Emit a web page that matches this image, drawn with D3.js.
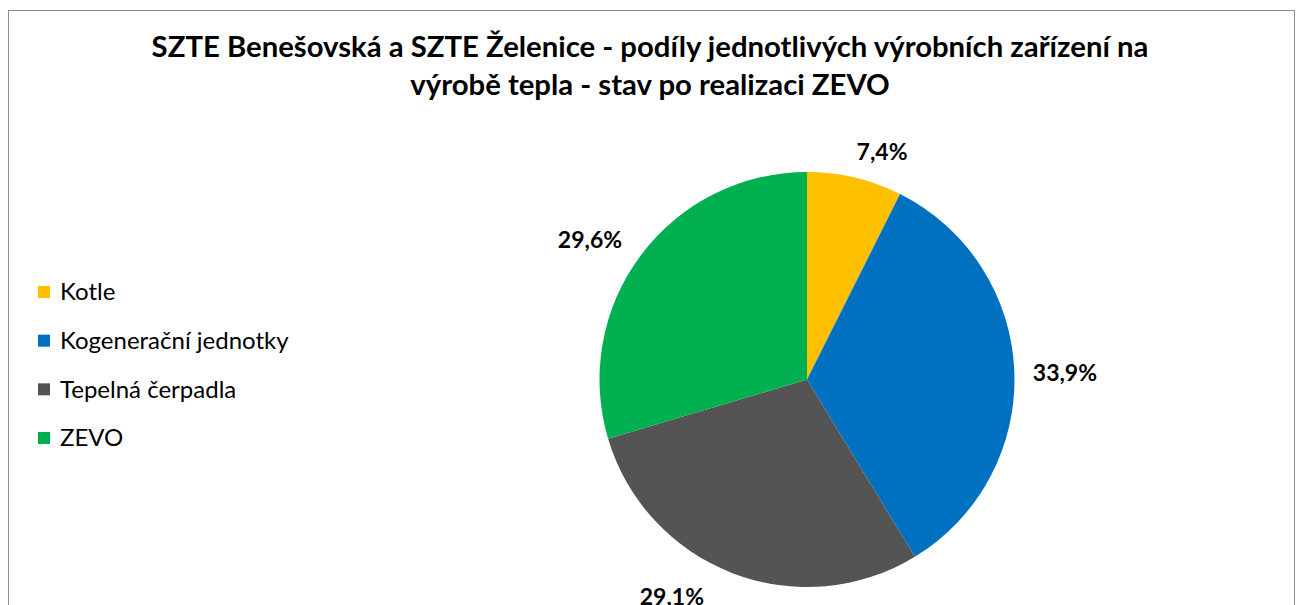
<!DOCTYPE html>
<html>
<head>
<meta charset="utf-8">
<script src="https://cdn.jsdelivr.net/npm/d3@7"></script>
<style>
  html, body { margin: 0; padding: 0; background: #ffffff; }
  svg { display: block; }
</style>
</head>
<body>
<svg id="chart" width="1296" height="605"></svg>
<script>
// Podíly výrobních zařízení na výrobě tepla (%)
const categories = ["Kotle", "Kogenerační jednotky", "Tepelná čerpadla", "ZEVO"];
const shares = [7.4, 33.9, 29.1, 29.6];
const colors = ["#FFC000", "#0070C0", "#545454", "#00B050"];
const titleLines = [
  "SZTE Benešovská a SZTE Želenice - podíly jednotlivých výrobních zařízení na",
  "výrobě tepla - stav po realizaci ZEVO"
];

const font = "Lato, 'Noto Sans', sans-serif";
const svg = d3.select("#chart");

// chart frame
svg.append("rect")
  .attr("x", 8.5).attr("y", 10.5)
  .attr("width", 1286).attr("height", 640)
  .attr("fill", "#ffffff")
  .attr("stroke", "#8c8c8c").attr("stroke-width", 1);

// title
const title = svg.append("text")
  .attr("text-anchor", "middle")
  .attr("font-family", font)
  .attr("font-weight", "bold")
  .attr("font-size", 29.3)
  .attr("fill", "#000000");
titleLines.forEach((line, i) => {
  title.append("tspan").attr("x", 650).attr("y", 57 + i * 38).text(line);
});

// pie
const cx = 807, cy = 379.5, radius = 207.5;
const pie = d3.pie().sort(null).value(d => d)
  .startAngle(0).endAngle(2 * Math.PI);
const arcs = pie(shares);
const arc = d3.arc().innerRadius(0).outerRadius(radius);

const g = svg.append("g").attr("transform", `translate(${cx},${cy})`);
g.selectAll("path.slice")
  .data(arcs)
  .join("path")
  .attr("class", "slice")
  .attr("d", arc)
  .attr("fill", (d, i) => colors[i]);

// data labels outside the pie (angle shift in degrees, distance from centre)
const labelLayout = [
  { shift: 4.9, dist: 240 },
  { shift: 0.9, dist: 258 },
  { shift: 10.8, dist: 256 },
  { shift: -4.0, dist: 258 }
];
const fmt = v => d3.format(".1f")(v).replace(".", ",") + "%";
g.selectAll("text.lbl")
  .data(arcs)
  .join("text")
  .attr("class", "lbl")
  .attr("transform", (d, i) => {
    const a = (d.startAngle + d.endAngle) / 2 + labelLayout[i].shift * Math.PI / 180;
    const r = labelLayout[i].dist;
    return `translate(${Math.sin(a) * r},${-Math.cos(a) * r})`;
  })
  .attr("text-anchor", "middle")
  .attr("dy", "0.35em")
  .attr("font-family", font)
  .attr("font-weight", "bold")
  .attr("font-size", 23)
  .attr("fill", "#000000")
  .text(d => fmt(d.data));

// legend
const legendY = d3.scalePoint().domain(categories).range([292, 438]);
const legend = svg.append("g");
const item = legend.selectAll("g")
  .data(categories)
  .join("g")
  .attr("transform", d => `translate(38,${legendY(d)})`);
item.append("rect")
  .attr("x", 0).attr("y", -6)
  .attr("width", 12).attr("height", 12)
  .attr("fill", (d, i) => colors[i]);
item.append("text")
  .attr("x", 22).attr("dy", "0.35em")
  .attr("font-family", font)
  .attr("font-size", 24)
  .attr("fill", "#000000")
  .text(d => d);
</script>
</body>
</html>
